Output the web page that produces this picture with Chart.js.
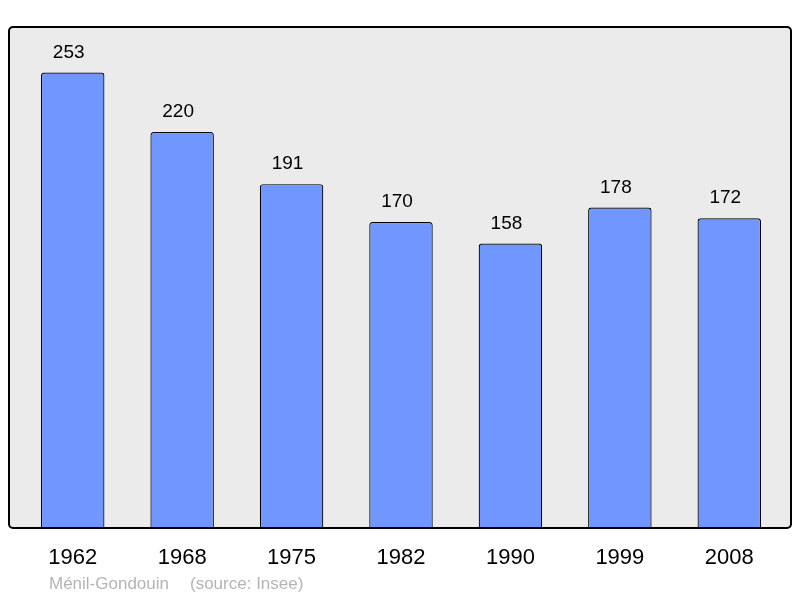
<!DOCTYPE html>
<html>
<head>
<meta charset="utf-8">
<script src="https://cdn.jsdelivr.net/npm/chart.js@4/dist/chart.umd.min.js"></script>
<style>
  html, body { margin: 0; padding: 0; background: #fff; }
  #wrap { width: 800px; height: 598px; }
</style>
</head>
<body>
<div id="wrap"><canvas id="myChart" width="800" height="598"></canvas></div>
<script>
const years = ['1962', '1968', '1975', '1982', '1990', '1999', '2008'];
const population = [253, 220, 191, 170, 158, 178, 172];
const placeName = 'Ménil-Gondouin';
const sourceText = '(source: Insee)';

const FONT = '"Liberation Sans", Arial, sans-serif';

// grey panel behind the bars, black frame on top
const framePlugin = {
    id: 'frame',
    beforeDatasetsDraw(chart) {
        const c = chart.ctx;
        c.save();
        c.beginPath();
        c.roundRect(9, 27, 782, 501, 4);
        c.fillStyle = '#ebebeb';
        c.fill();
        c.restore();
    },
    afterDatasetsDraw(chart) {
        const c = chart.ctx;
        const meta = chart.getDatasetMeta(0);
        c.save();
        // value labels (sit a little left of the bar centre in the original)
        c.font = '19px ' + FONT;
        c.fillStyle = '#000';
        c.textAlign = 'center';
        c.textBaseline = 'alphabetic';
        meta.data.forEach((bar, i) => {
            c.fillText(String(population[i]), bar.x - 4, bar.y - 15);
        });
        c.beginPath();
        c.roundRect(9, 27, 782, 501, 4);
        c.lineWidth = 2;
        c.strokeStyle = '#000';
        c.stroke();
        // footnote
        c.font = '17px ' + FONT;
        c.fillStyle = '#b4b4b4';
        c.textAlign = 'left';
        c.fillText(placeName, 49, 589);
        c.fillText(sourceText, 190, 589);
        c.restore();
    }
};

const ctx = document.getElementById('myChart').getContext('2d');
const myChart = new Chart(ctx, {
    type: 'bar',
    data: {
        labels: years,
        datasets: [{
            data: population,
            backgroundColor: '#7096ff',
            borderColor: '#000',
            borderWidth: 1.2,
            borderSkipped: 'bottom',
            borderRadius: { topLeft: 3, topRight: 3 },
            barPercentage: 0.58,
            categoryPercentage: 1
        }]
    },
    options: {
        responsive: false,
        animation: false,
        layout: { padding: { left: 18, right: 16, top: 27, bottom: 0 } },
        plugins: {
            legend: { display: false },
            tooltip: { enabled: false }
        },
        scales: {
            x: {
                grid: { display: false },
                border: { display: false },
                afterFit(scale) { scale.height = 70; },
                ticks: {
                    color: '#000',
                    font: { family: FONT, size: 22 },
                    padding: 9,
                    maxRotation: 0
                }
            },
            y: {
                display: false,
                min: 0,
                max: 278.3
            }
        }
    },
    plugins: [framePlugin]
});
</script>
</body>
</html>
